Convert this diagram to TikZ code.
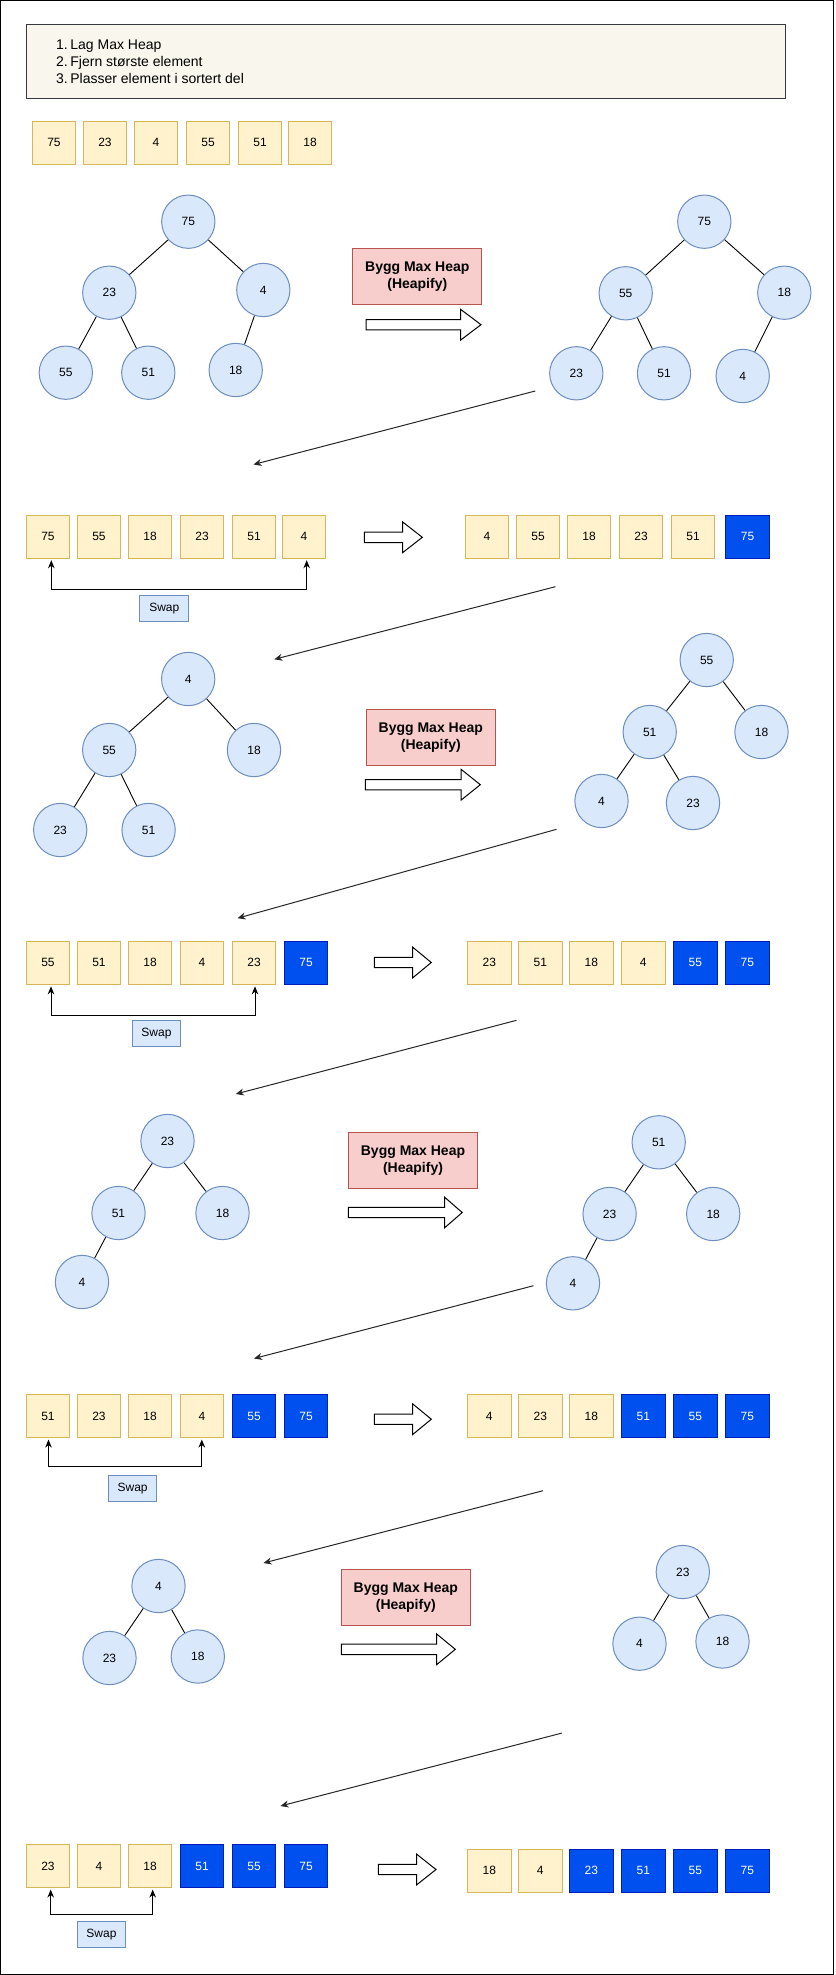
\documentclass[tikz,border=0pt]{standalone}
\usepackage{fontspec}
\setmainfont{Liberation Sans}
\usetikzlibrary{arrows.meta,calc}
\definecolor{yfill}{HTML}{FFF2CC}
\definecolor{ystroke}{HTML}{D6B656}
\definecolor{bfill}{HTML}{0050EF}
\definecolor{bstroke}{HTML}{001DBC}
\definecolor{lbfill}{HTML}{DAE8FC}
\definecolor{lbstroke}{HTML}{6C8EBF}
\definecolor{rfill}{HTML}{F8CECC}
\definecolor{rstroke}{HTML}{B85450}
\definecolor{nfill}{HTML}{F9F7ED}
\definecolor{nstroke}{HTML}{36393D}
\newcommand{\hollowarrow}[4]{%
  \draw[harrow] (#1,#4-5.2) -- (#2,#4-5.2) -- (#2,#4-15.3) -- (#3,#4) -- (#2,#4+15.3) -- (#2,#4+5.2) -- (#1,#4+5.2) -- cycle;}
\newcommand{\listnum}[1]{\makebox[14.2pt][l]{#1}}
\begin{document}
\begin{tikzpicture}[x=1pt,y=-1pt,
  ybox/.style={draw=ystroke, fill=yfill, line width=1pt, minimum width=43.4pt, minimum height=43pt, inner sep=0pt, font=\fontsize{12}{14}\selectfont},
  bbox/.style={draw=bstroke, fill=bfill, line width=1pt, minimum width=43.4pt, minimum height=43pt, inner sep=0pt, text=white, font=\fontsize{12}{14}\selectfont},
  tnode/.style={circle, draw=lbstroke, fill=lbfill, line width=1pt, minimum size=53.3pt, inner sep=0pt, font=\fontsize{12}{14}\selectfont},
  swapbox/.style={draw=lbstroke, fill=lbfill, line width=1pt, minimum width=48.7pt, minimum height=26pt, inner sep=0pt, font=\fontsize{12}{14}\selectfont},
  hbox/.style={draw=rstroke, fill=rfill, line width=1pt, minimum width=129pt, minimum height=56pt, inner sep=0pt, align=center, font=\fontsize{14}{17}\selectfont\bfseries},
  edge/.style={draw=black, line width=0.9pt},
  diag/.style={draw=black!85, line width=1pt, -{Stealth[length=8pt,width=7pt,inset=2.5pt]}},
  swapline/.style={draw=black, line width=1pt, {Stealth[length=8pt,width=6.5pt,inset=2.5pt]}-{Stealth[length=8pt,width=6.5pt,inset=2.5pt]}},
  harrow/.style={draw=black, fill=white, line width=1pt, line join=miter}
]
\useasboundingbox (0,0) rectangle (835,1975);
\draw[line width=1.3pt] (0.7,0.7) rectangle (833.6,1974.3);

% note box
\node[draw=nstroke, fill=nfill, line width=1pt, minimum width=759pt, minimum height=74pt, inner sep=0pt] (note) at (406,61.3) {};
\node[anchor=west, align=left, inner sep=0pt, font=\fontsize{14}{17}\selectfont] (notetext) at (56,62) {\listnum{1.}Lag Max Heap\\\listnum{2.}Fjern største element\\\listnum{3.}Plasser element i sortert del};

% initial array
\node[ybox] (r0a) at (54,142.8) {75};
\node[ybox] (r0b) at (105,142.8) {23};
\node[ybox] (r0c) at (156,142.8) {4};
\node[ybox] (r0d) at (208,142.8) {55};
\node[ybox] (r0e) at (260,142.8) {51};
\node[ybox] (r0f) at (310,142.8) {18};

% tree 1 left
\node[tnode] (t1a) at (188.3,221.7) {75};
\node[tnode] (t1b) at (109.3,292.7) {23};
\node[tnode] (t1c) at (263.3,290) {4};
\node[tnode] (t1d) at (65.8,372.7) {55};
\node[tnode] (t1e) at (148.3,372.7) {51};
\node[tnode] (t1f) at (235.7,370) {18};
\draw[edge] (t1a) -- (t1b); \draw[edge] (t1a) -- (t1c);
\draw[edge] (t1b) -- (t1d); \draw[edge] (t1b) -- (t1e);
\draw[edge] (t1c) -- (t1f);
% heapify 1
\node[hbox] (h1) at (417.3,276.3) {Bygg Max Heap\\(Heapify)};
\hollowarrow{366}{460.7}{481}{324.7}
% tree 1 right
\node[tnode] (u1a) at (704.3,221.7) {75};
\node[tnode] (u1b) at (625.7,293.3) {55};
\node[tnode] (u1c) at (784.3,292.7) {18};
\node[tnode] (u1d) at (576.3,373.3) {23};
\node[tnode] (u1e) at (664,373.3) {51};
\node[tnode] (u1f) at (742.7,376) {4};
\draw[edge] (u1a) -- (u1b); \draw[edge] (u1a) -- (u1c);
\draw[edge] (u1b) -- (u1d); \draw[edge] (u1b) -- (u1e);
\draw[edge] (u1c) -- (u1f);

\coordinate (d1s) at (535.2,391); \coordinate (d1e) at (253.5,464.5);
\draw[diag] (d1s) -- (d1e);

% row 1
\node[ybox] (r1a) at (48,536.7) {75};
\node[ybox] (r1b) at (99,536.7) {55};
\node[ybox] (r1c) at (150,536.7) {18};
\node[ybox] (r1d) at (202,536.7) {23};
\node[ybox] (r1e) at (254,536.7) {51};
\node[ybox] (r1f) at (304,536.7) {4};
\draw[swapline] ([xshift=3.3,yshift=-1.5]r1a.south) -- ++(0,29.5) -| ([xshift=2.7,yshift=-1.5]r1f.south);
\node[swapbox] (s1) at (164.3,608.3) {Swap};
\hollowarrow{364.3}{402.7}{422.3}{537.3}
\node[ybox] (q1a) at (487,536.7) {4};
\node[ybox] (q1b) at (538,536.7) {55};
\node[ybox] (q1c) at (589,536.7) {18};
\node[ybox] (q1d) at (641,536.7) {23};
\node[ybox] (q1e) at (693,536.7) {51};
\node[bbox] (q1f) at (747.5,536.7) {75};

\coordinate (d2s) at (555.4,586.7); \coordinate (d2e) at (274.3,659.3);
\draw[diag] (d2s) -- (d2e);

% tree 2 left
\node[tnode] (t2a) at (188.2,679) {4};
\node[tnode] (t2b) at (109.2,750) {55};
\node[tnode] (t2c) at (254,750) {18};
\node[tnode] (t2d) at (60.2,830) {23};
\node[tnode] (t2e) at (148.6,830) {51};
\draw[edge] (t2a) -- (t2b); \draw[edge] (t2a) -- (t2c);
\draw[edge] (t2b) -- (t2d); \draw[edge] (t2b) -- (t2e);
\node[hbox] (h2) at (430.8,737.2) {Bygg Max Heap\\(Heapify)};
\hollowarrow{365.3}{461.2}{480.3}{784.7}
% tree 2 right
\node[tnode] (u2a) at (706.7,660) {55};
\node[tnode] (u2b) at (649.7,732) {51};
\node[tnode] (u2c) at (761.5,732) {18};
\node[tnode] (u2d) at (601.5,801) {4};
\node[tnode] (u2e) at (693,803) {23};
\draw[edge] (u2a) -- (u2b); \draw[edge] (u2a) -- (u2c);
\draw[edge] (u2b) -- (u2d); \draw[edge] (u2b) -- (u2e);

\coordinate (d3s) at (556.5,829.3); \coordinate (d3e) at (237.5,918.2);
\draw[diag] (d3s) -- (d3e);

% row 2
\node[ybox] (r2a) at (48,962.8) {55};
\node[ybox] (r2b) at (99,962.8) {51};
\node[ybox] (r2c) at (150,962.8) {18};
\node[ybox] (r2d) at (202,962.8) {4};
\node[ybox] (r2e) at (254,962.8) {23};
\node[bbox] (r2f) at (306,962.8) {75};
\draw[swapline] ([xshift=3,yshift=-1.5]r2a.south) -- ++(0,29.5) -| ([xshift=1,yshift=-1.5]r2e.south);
\node[swapbox] (s2) at (156.5,1033.3) {Swap};
\hollowarrow{374.4}{412.7}{431.3}{962.5}
\node[ybox] (q2a) at (489.3,962.8) {23};
\node[ybox] (q2b) at (540.3,962.8) {51};
\node[ybox] (q2c) at (591.3,962.8) {18};
\node[ybox] (q2d) at (643.3,962.8) {4};
\node[bbox] (q2e) at (695.3,962.8) {55};
\node[bbox] (q2f) at (747.3,962.8) {75};

\coordinate (d4s) at (516.5,1020.3); \coordinate (d4e) at (235.8,1094);
\draw[diag] (d4s) -- (d4e);

% tree 3 left
\node[tnode] (t3a) at (167.5,1141) {23};
\node[tnode] (t3b) at (118.5,1213) {51};
\node[tnode] (t3c) at (222.5,1213) {18};
\node[tnode] (t3d) at (82,1282) {4};
\draw[edge] (t3a) -- (t3b); \draw[edge] (t3a) -- (t3c);
\draw[edge] (t3b) -- (t3d);
\node[hbox] (h3) at (413,1160.3) {Bygg Max Heap\\(Heapify)};
\hollowarrow{348.3}{444.6}{462.2}{1212.5}
% tree 3 right
\node[tnode] (u3a) at (658.7,1142.3) {51};
\node[tnode] (u3b) at (609.6,1214) {23};
\node[tnode] (u3c) at (713.2,1214) {18};
\node[tnode] (u3d) at (573,1283.3) {4};
\draw[edge] (u3a) -- (u3b); \draw[edge] (u3a) -- (u3c);
\draw[edge] (u3b) -- (u3d);

\coordinate (d5s) at (533.5,1285.7); \coordinate (d5e) at (254,1358.5);
\draw[diag] (d5s) -- (d5e);

% row 3
\node[ybox] (r3a) at (48,1416) {51};
\node[ybox] (r3b) at (99,1416) {23};
\node[ybox] (r3c) at (150,1416) {18};
\node[ybox] (r3d) at (202,1416) {4};
\node[bbox] (r3e) at (254,1416) {55};
\node[bbox] (r3f) at (306,1416) {75};
\draw[swapline] ([xshift=0.5,yshift=-1.5]r3a.south) -- ++(0,27.1) -| ([xshift=-0.2,yshift=-1.5]r3d.south);
\node[swapbox] (s3) at (132.6,1488.3) {Swap};
\hollowarrow{374.4}{412.7}{431.3}{1419.2}
\node[ybox] (q3a) at (489.3,1416) {4};
\node[ybox] (q3b) at (540.3,1416) {23};
\node[ybox] (q3c) at (591.3,1416) {18};
\node[bbox] (q3d) at (643.3,1416) {51};
\node[bbox] (q3e) at (695.3,1416) {55};
\node[bbox] (q3f) at (747.3,1416) {75};

\coordinate (d6s) at (543,1490.7); \coordinate (d6e) at (263.5,1563);
\draw[diag] (d6s) -- (d6e);

% tree 4 left
\node[tnode] (t4a) at (158.5,1586) {4};
\node[tnode] (t4b) at (109.5,1658) {23};
\node[tnode] (t4c) at (197.8,1656.5) {18};
\draw[edge] (t4a) -- (t4b); \draw[edge] (t4a) -- (t4c);
\node[hbox] (h4) at (405.8,1597.2) {Bygg Max Heap\\(Heapify)};
\hollowarrow{341.3}{436.7}{455.3}{1649.3}
% tree 4 right
\node[tnode] (u4a) at (682.8,1572) {23};
\node[tnode] (u4b) at (639.5,1643.7) {4};
\node[tnode] (u4c) at (722.5,1641.5) {18};
\draw[edge] (u4a) -- (u4b); \draw[edge] (u4a) -- (u4c);

\coordinate (d7s) at (561.7,1733.1); \coordinate (d7e) at (280.5,1806);
\draw[diag] (d7s) -- (d7e);

% row 4
\node[ybox] (r4a) at (48,1866) {23};
\node[ybox] (r4b) at (99,1866) {4};
\node[ybox] (r4c) at (150,1866) {18};
\node[bbox] (r4d) at (202,1866) {51};
\node[bbox] (r4e) at (254,1866) {55};
\node[bbox] (r4f) at (306,1866) {75};
\draw[swapline] ([xshift=2.7,yshift=-1.5]r4a.south) -- ++(0,25.1) -| ([xshift=2.7,yshift=-1.5]r4c.south);
\node[swapbox] (s4) at (101.5,1934.3) {Swap};
\hollowarrow{378.3}{416.7}{436}{1869.5}
\node[ybox] (q4a) at (489.3,1870.8) {18};
\node[ybox] (q4b) at (540.3,1870.8) {4};
\node[bbox] (q4c) at (591.3,1870.8) {23};
\node[bbox] (q4d) at (643.3,1870.8) {51};
\node[bbox] (q4e) at (695.3,1870.8) {55};
\node[bbox] (q4f) at (747.3,1870.8) {75};
\end{tikzpicture}
\end{document}
